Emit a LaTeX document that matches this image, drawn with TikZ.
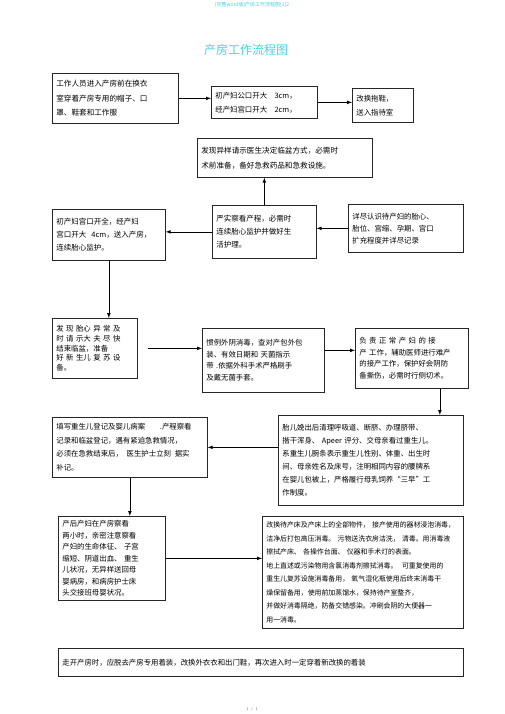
\documentclass[tikz,border=0pt]{standalone}
\usepackage{fontspec}
\newfontfamily\cjk{Noto Sans CJK SC}
\usetikzlibrary{positioning}
\definecolor{titlecyan}{RGB}{70,210,225}
\tikzset{
	stepbox/.style={draw=black!85,line width=.7pt,anchor=north west,align=left,
		inner xsep=4pt,inner ysep=2pt,font=\cjk\fontsize{7.5}{13}\selectfont},
	flow/.style={->,line width=.7pt},
}
\begin{document}
\begin{tikzpicture}[>=latex,x=1pt,y=-1pt]
		\useasboundingbox (0,0) rectangle (505,714);
		% header and title
		\node [titlecyan,font=\cjk\fontsize{5}{6}\selectfont] (header) at (252,5) {(完整word版)产房工作流程图[1]2};
		\node [titlecyan,font=\cjk\fontsize{12}{14}\selectfont] (title) at (246,50) {产房工作流程图};
		% first row
		\node [stepbox,text width=118pt,minimum height=50pt,font=\cjk\fontsize{7.6}{14.5}\selectfont] (staff) at (52,73)
			{工作人员进入产房前在换衣\\室穿着产房专用的帽子、口\\罩、鞋套和工作服};
		\node [stepbox,text width=98pt,minimum height=32pt,font=\cjk\fontsize{7.4}{14}\selectfont] (dilate) at (211,86)
			{初产妇公口开大\quad 3cm，\\经产妇宫口开大\quad 2cm，};
		\node [stepbox,text width=53pt,minimum height=34pt,font=\cjk\fontsize{7.4}{14}\selectfont] (slipper) at (352,88)
			{改换拖鞋，\\送入指待室};
		% second row
		\node [stepbox,text width=167pt,minimum height=39pt,font=\cjk\fontsize{7.6}{15}\selectfont] (abnormal) at (197,138)
			{发现异样请示医生决定临盆方式，必需时\\术前准备，备好急救药品和急救设施。};
		\node [stepbox,text width=96pt,minimum height=53pt] (watch) at (212,205)
			{严实察看产程，必需时\\连续胎心监护并做好生\\活护理。};
		\node [stepbox,text width=105pt,minimum height=51pt] (fullopen) at (52,209)
			{初产妇宫口开全，经产妇\\宫口开大\ \ 4cm，送入产房，\\连续胎心监护。};
		\node [stepbox,text width=107pt,minimum height=48pt,font=\cjk\fontsize{7.4}{12}\selectfont] (record) at (348,204)
			{详尽认识待产妇的胎心、\\胎位、宫缩、孕期、宫口\\扩充程度并详尽记录};
		% third row
		\node [stepbox,text width=77pt,minimum height=60pt,font=\cjk\fontsize{7.4}{9.6}\selectfont] (fetal) at (52,318)
			{发\ 现\ 胎心\ 异\ 常\ 及\\时\ 请\ 示大\ 夫\ 尽\ 快\\结束临盆，准备\\好\ 新\ 生儿\ 复\ 苏\ 设\\备。};
		\node [stepbox,text width=114pt,minimum height=64pt,font=\cjk\fontsize{7.4}{11.5}\selectfont] (disinfect) at (202,328)
			{惯例外阴消毒，查对产包外包\\装、有效日期和\ 天菌指示\\带 .依据外科手术严格刷手\\及戴无菌手套。};
		\node [stepbox,text width=105pt,minimum height=60pt,font=\cjk\fontsize{7.4}{11.5}\selectfont] (deliver) at (355,328)
			{负\ 责\ 正\ 常\ 产\ 妇\ 的\ 接\\产\ 工作，辅助医师进行难产\\的接产工作，保护好会阴防\\备撕伤，必需时行侧切术。};
		% fourth row
		\node [stepbox,text width=147pt,minimum height=60pt,font=\cjk\fontsize{7.4}{13.5}\selectfont] (register) at (52,417)
			{填写重生儿登记及婴儿病案\qquad .产程察看\\记录和临盆登记，遇有紧迫急救情况，\\必须在急救结束后，\enspace 医生护士立刻\enspace 据实\\补记。};
		\node [stepbox,text width=177pt,minimum height=90pt,font=\cjk\fontsize{7.4}{13}\selectfont] (newborn) at (278,415)
			{胎儿娩出后清理呼吸道、断脐、办理脐带、\\揩干浑身、\ Apeer 评分、交母亲看过重生儿。\\系重生儿腕条表示重生儿性别、体重、出生时\\间、母亲姓名及床号，注明相同内容的腰牌系\\在婴儿包被上，严格履行母乳饲养“三早”工\\作制度。};
		% fifth row
		\node [stepbox,text width=99pt,minimum height=84pt,font=\cjk\fontsize{7.4}{11.5}\selectfont] (postpartum) at (58,516)
			{产后产妇在产房察看\\两小时，亲密注意察看\\产妇的生命体征、\ 子宫\\缩短、阴道出血、\ 重生\\儿状况，无异样送回母\\婴病房，和病房护士床\\头交接班母婴状况。};
		\node [stepbox,text width=193pt,minimum height=112pt,font=\cjk\fontsize{6.9}{13.5}\selectfont] (cleanup) at (262,516)
			{改换待产床及产床上的全部物件，\ 接产使用的器材浸泡消毒，\\洁净后打包高压消毒。\ 污物送洗衣房洁洗，\ 清毒。用消毒液\\擦拭产床、\ 各操作台面、\ 仪器和手术灯的表面。\\地上直述或污染物用含氯消毒剂擦拭消毒。\ \ 可重复使用的\\重生儿复苏设施消毒备用，\ 氧气湿化瓶使用后终末消毒干\\燥保留备用，使用前加蒸馏水，保持待产室整齐，\\并做好消毒隔绝，防备交错感染。冲刷会阴的大便器一\\用一消毒。};
		\node [stepbox,text width=397pt,minimum height=28pt,font=\cjk\fontsize{7.4}{9}\selectfont] (leave) at (58,648)
			{走开产房时，应脱去产房专用着装，改换外衣衣和出门鞋，再次进入时一定穿着新改换的着装};
		\node [black!60,font=\fontsize{4}{5}\selectfont] (pageno) at (252,709) {1 / 1};
		% connectors
		\draw [flow] (staff.east) -- (staff.east -| dilate.west);
		\draw [flow] (dilate.east) -- (dilate.east -| slipper.west);
		\draw [flow] (watch.north) -- (watch.north |- abnormal.south);
		\draw [flow] (record.west) -- (record.west -| watch.east);
		\draw [flow] (watch.west) -- (watch.west -| fullopen.east);
		\draw [flow] (fullopen.south) -- (fullopen.south |- fetal.north);
		\draw [flow,shorten <=10pt] (fetal.east) -- (fetal.east -| disinfect.west);
		\draw [flow] ([yshift=10pt]disinfect.east) -- ([yshift=10pt]disinfect.east -| deliver.west);
		\draw [flow] ([xshift=28pt]deliver.south) -- ([xshift=28pt]deliver.south |- newborn.north);
		\draw [flow] (register.east -| newborn.west) -- (register.east);
		\draw [flow] (register.south) -- (register.south |- postpartum.north);
		\draw [flow] (postpartum.east) -- (postpartum.east -| cleanup.west);
\end{tikzpicture}
\end{document}
